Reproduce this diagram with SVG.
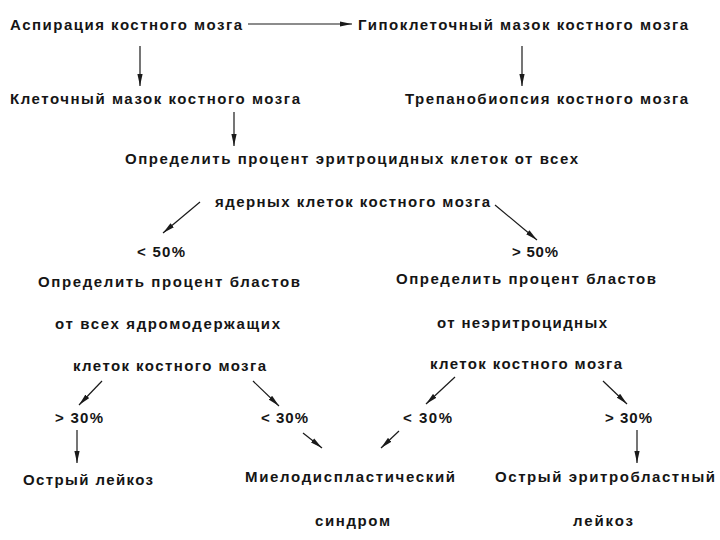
<svg xmlns="http://www.w3.org/2000/svg" width="720" height="540" viewBox="0 0 720 540">
<style>
text{font-family:"Liberation Sans",Arial,sans-serif;font-size:15px;font-weight:bold;fill:#151515}
.c line{stroke:#1a1a1a;stroke-width:1.2;marker-end:url(#ah)}
</style>
<defs>
<marker id="ah" viewBox="0 0 12 6" refX="12" refY="3" markerWidth="12" markerHeight="6" markerUnits="userSpaceOnUse" orient="auto">
<path d="M0,0.4 L12,3 L0,5.6 Z" fill="#1a1a1a"/>
</marker>
</defs>
<rect width="720" height="540" fill="#fff"/>
<g id="n1"><text x="10" y="30" textLength="232" lengthAdjust="spacing">Аспирация костного мозга</text></g>
<g id="n2"><text x="358" y="30" textLength="330" lengthAdjust="spacing">Гипоклеточный мазок костного мозга</text></g>
<g id="n3"><text x="10" y="104" textLength="290" lengthAdjust="spacing">Клеточный мазок костного мозга</text></g>
<g id="n4"><text x="405" y="104" textLength="283" lengthAdjust="spacing">Трепанобиопсия костного мозга</text></g>
<g id="n5"><text x="125" y="164" textLength="453" lengthAdjust="spacing">Определить процент эритроцидных клеток от всех</text>
<text x="215" y="207" textLength="275" lengthAdjust="spacing">ядерных клеток костного мозга</text></g>
<g id="n6"><text x="137" y="257" textLength="48" lengthAdjust="spacing">&lt; 50%</text></g>
<g id="n7"><text x="512" y="257" textLength="46" lengthAdjust="spacing">&gt; 50%</text></g>
<g id="n8"><text x="38" y="287" textLength="262" lengthAdjust="spacing">Определить процент бластов</text>
<text x="55" y="329" textLength="225" lengthAdjust="spacing">от всех ядромодержащих</text>
<text x="73" y="371" textLength="193" lengthAdjust="spacing">клеток костного мозга</text></g>
<g id="n9"><text x="396" y="284" textLength="260" lengthAdjust="spacing">Определить процент бластов</text>
<text x="437" y="328" textLength="170" lengthAdjust="spacing">от неэритроцидных</text>
<text x="430" y="369" textLength="192" lengthAdjust="spacing">клеток костного мозга</text></g>
<g id="n10"><text x="55" y="423" textLength="48" lengthAdjust="spacing">&gt; 30%</text></g>
<g id="n11"><text x="261" y="423" textLength="47" lengthAdjust="spacing">&lt; 30%</text></g>
<g id="n12"><text x="403" y="423" textLength="49" lengthAdjust="spacing">&lt; 30%</text></g>
<g id="n13"><text x="605" y="423" textLength="47" lengthAdjust="spacing">&gt; 30%</text></g>
<g id="n14"><text x="23" y="485" textLength="130" lengthAdjust="spacing">Острый лейкоз</text></g>
<g id="n15"><text x="245" y="482" textLength="210" lengthAdjust="spacing">Миелодиспластический</text>
<text x="315" y="526" textLength="75" lengthAdjust="spacing">синдром</text></g>
<g id="n16"><text x="495" y="482" textLength="220" lengthAdjust="spacing">Острый эритробластный</text>
<text x="573" y="526" textLength="60" lengthAdjust="spacing">лейкоз</text></g>
<g id="connectors" class="c">
<line x1="248" y1="24" x2="352" y2="24"/>
<line x1="140" y1="46" x2="140" y2="86"/>
<line x1="522" y1="46" x2="522" y2="86"/>
<line x1="234" y1="112" x2="234" y2="146"/>
<line x1="200" y1="202" x2="163" y2="233"/>
<line x1="495" y1="205" x2="537" y2="240"/>
<line x1="102" y1="381" x2="79" y2="405"/>
<line x1="253" y1="381" x2="279" y2="406"/>
<line x1="455" y1="377" x2="426" y2="404"/>
<line x1="603" y1="381" x2="627" y2="404"/>
<line x1="77" y1="430" x2="77" y2="463"/>
<line x1="637" y1="430" x2="637" y2="463"/>
<line x1="303" y1="433" x2="322" y2="448"/>
<line x1="399" y1="431" x2="381" y2="448"/>
</g>
</svg>
